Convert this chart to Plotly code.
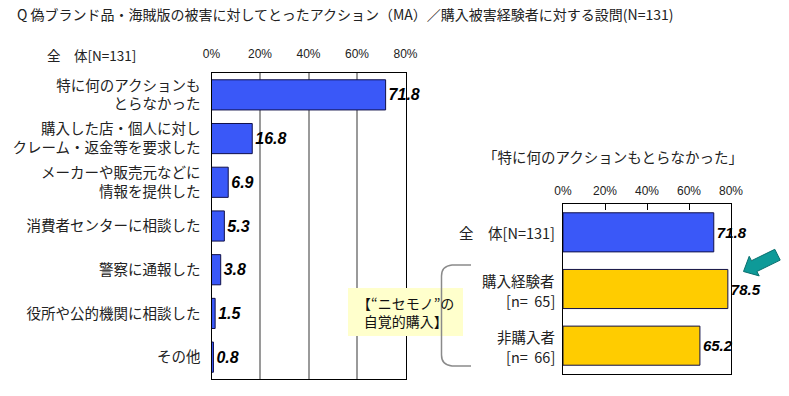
import plotly.graph_objects as go

W, H = 789, 396

categories = ["特に何のアクションも<br>とらなかった",
              "購入した店・個人に対し<br>クレーム・返金等を要求した",
              "メーカーや販売元などに<br>情報を提供した",
              "消費者センターに相談した",
              "警察に通報した",
              "役所や公的機関に相談した",
              "その他"]
values = [71.8, 16.8, 6.9, 5.3, 3.8, 1.5, 0.8]

sub_categories = ["全　体[N=131]", "購入経験者", "非購入者"]
sub_counts = ["", "[n=\u00a0\u00a065]", "[n=\u00a0\u00a066]"]
sub_values = [71.8, 78.5, 65.2]

tick_vals = [0, 20, 40, 60, 80]
tick_text = ["0%", "20%", "40%", "60%", "80%"]

title_text = "Q 偽ブランド品・海賊版の被害に対してとったアクション（MA）／購入被害経験者に対する設問(N=131)"
sub_title = "「特に何のアクションもとらなかった」"
left_header = "全　体[N=131]"
note_text = "【“ニセモノ”の<br>自覚的購入】"

BLUE = "#3A58F8"
YELLOW = "#FFCC00"
JP = "Noto Sans CJK JP"
LAT = "Liberation Sans"


def px(x):
    return x / W


def py(y):
    return 1 - y / H


fig = go.Figure()

fig.add_trace(go.Bar(
    x=values, y=categories, orientation="h",
    marker=dict(color=BLUE, line=dict(color="#10104a", width=1)),
    text=[f"{v:.1f}" for v in values], textposition="outside",
    textfont=dict(family=LAT, size=16, color="black", weight="bold", style="italic"),
    cliponaxis=False, constraintext="none",
    xaxis="x", yaxis="y", showlegend=False,
))

fig.add_trace(go.Bar(
    x=sub_values, y=sub_categories, orientation="h",
    marker=dict(color=[BLUE, YELLOW, YELLOW], line=dict(color="#10104a", width=1)),
    text=[f"{v:.1f}" for v in sub_values], textposition="outside",
    textfont=dict(family=LAT, size=15, color="black", weight="bold", style="italic"),
    cliponaxis=False, constraintext="none",
    xaxis="x2", yaxis="y2", showlegend=False,
))

fig.update_layout(
    width=W, height=H,
    margin=dict(l=0, r=0, t=0, b=0),
    paper_bgcolor="white", plot_bgcolor="white",
    bargap=0.31,
    font=dict(family=JP, size=14, color="#222"),
    xaxis=dict(domain=[px(211.5), px(405.5)], range=[0, 80], side="top", anchor="y",
               tickvals=tick_vals, ticktext=tick_text,
               tickfont=dict(family=LAT, size=12, color="#222"),
               showgrid=True, gridcolor="#9a9a9a", gridwidth=1.5,
               showline=True, linecolor="black", linewidth=1, mirror=True,
               ticks="", ticklabelstandoff=9, zeroline=False, fixedrange=True,
               automargin=False),
    yaxis=dict(domain=[py(379), py(73)], autorange="reversed", anchor="x",
               tickfont=dict(family=JP, size=14.5, color="#222"),
               showline=True, linecolor="black", linewidth=1, mirror=True,
               ticks="", ticklabelstandoff=7, showgrid=False, fixedrange=True,
               automargin=False),
    xaxis2=dict(domain=[px(563), px(731)], range=[0, 80], side="top", anchor="y2",
                tickvals=tick_vals, ticktext=tick_text,
                tickfont=dict(family=LAT, size=12, color="#222"),
                showgrid=False, showline=True, linecolor="black", linewidth=1, mirror=True,
                ticks="inside", ticklen=6, tickcolor="black", ticklabelstandoff=3,
                zeroline=False, fixedrange=True, automargin=False),
    yaxis2=dict(domain=[py(374), py(204)], autorange="reversed", anchor="x2",
                showticklabels=False,
                showline=True, linecolor="black", linewidth=1, mirror=True,
                ticks="", showgrid=False, fixedrange=True,
                automargin=False),
)

annotations = [
    dict(text=title_text, x=px(15), y=py(14), xref="paper", yref="paper",
         xanchor="left", yanchor="middle", showarrow=False,
         font=dict(family=JP, size=14, color="#222")),
    dict(text=left_header, x=px(45), y=py(55), xref="paper", yref="paper",
         xanchor="left", yanchor="middle", showarrow=False,
         font=dict(family=JP, size=13.5, color="#222")),
    dict(text=sub_title, x=px(613), y=py(157), xref="paper", yref="paper",
         xanchor="center", yanchor="middle", showarrow=False,
         font=dict(family=JP, size=14.5, color="#222")),
    dict(text=note_text, x=px(405.5), y=py(312), xref="paper", yref="paper",
         xanchor="center", yanchor="middle", showarrow=False,
         font=dict(family=JP, size=14, color="#111")),
]

# right-chart category labels (name line + count line), tied to the y2 axis
for cat, cnt in zip(sub_categories, sub_counts):
    if cnt:
        annotations.append(dict(text=cat, x=0, xref="x2 domain", y=cat, yref="y2",
                                xanchor="right", yanchor="middle", xshift=-6, yshift=9,
                                showarrow=False, font=dict(family=JP, size=14.5, color="#222")))
        annotations.append(dict(text=cnt, x=0, xref="x2 domain", y=cat, yref="y2",
                                xanchor="right", yanchor="middle", xshift=-6, yshift=-11,
                                showarrow=False, font=dict(family=JP, size=14.5, color="#222")))
    else:
        annotations.append(dict(text=cat, x=0, xref="x2 domain", y=cat, yref="y2",
                                xanchor="right", yanchor="middle", xshift=-6,
                                showarrow=False, font=dict(family=JP, size=14.5, color="#222")))

shapes = [
    # note box
    dict(type="rect", xref="paper", yref="paper",
         x0=px(348), x1=px(463), y0=py(336), y1=py(288),
         fillcolor="#FFFFCC", line=dict(width=0), layer="above"),
    # bracket
    dict(type="path", xref="paper", yref="paper",
         path=(f"M {px(471)} {py(265)} L {px(452)} {py(265)} "
               f"Q {px(441.5)} {py(266)} {px(441.5)} {py(276)} "
               f"L {px(441.5)} {py(355)} "
               f"Q {px(441.5)} {py(365)} {px(452)} {py(366)} "
               f"L {px(471)} {py(366)}"),
         line=dict(color="#8a8a8a", width=1.5), layer="above"),
    # arrow
    dict(type="path", xref="paper", yref="paper",
         path=(f"M {px(774.8)} {py(249.3)} L {px(751.5)} {py(260.7)} "
               f"L {px(749.2)} {py(256.3)} L {px(743.5)} {py(271.5)} "
               f"L {px(759.2)} {py(275.9)} L {px(756.9)} {py(271.5)} "
               f"L {px(780.2)} {py(260.1)} Z"),
         fillcolor="#0E9A98", line=dict(color="#0a6f6e", width=1), layer="above"),
]

fig.update_layout(annotations=annotations, shapes=shapes)

fig.write_html("out.html", config={"displayModeBar": False},
               post_script="document.body.style.margin='0';document.body.style.overflow='hidden';")
